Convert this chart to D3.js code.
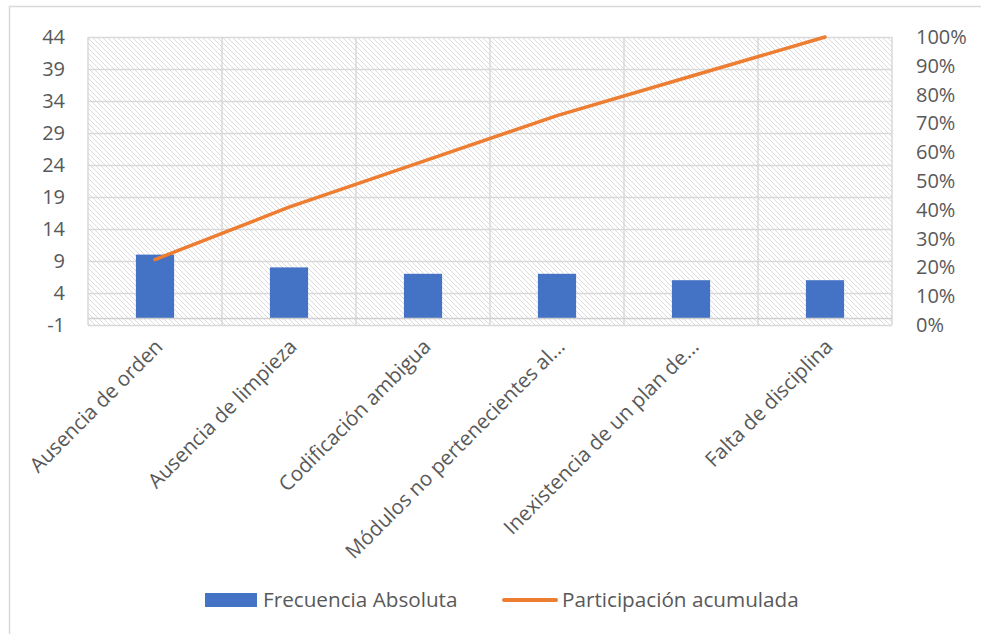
<!DOCTYPE html>
<html>
<head>
<meta charset="utf-8">
<script src="https://cdnjs.cloudflare.com/ajax/libs/d3/7.8.5/d3.min.js"></script>
<style>
  html, body { margin: 0; padding: 0; background: #fff; }
  svg { display: block; }
  text { font-family: "Open Sans", Lato, sans-serif; fill: #595959; }
</style>
</head>
<body>
<svg id="chart" width="981" height="634"></svg>
<script>
// Pareto data: causes and their absolute frequency
const categories = [
  "Ausencia de orden",
  "Ausencia de limpieza",
  "Codificación ambigua",
  "Módulos no pertenecientes al...",
  "Inexistencia de un plan de...",
  "Falta de disciplina"
];
const frequencies = [10, 8, 7, 7, 6, 6];
const leftTicks = [-1, 4, 9, 14, 19, 24, 29, 34, 39, 44];
const rightTicks = [0, 0.1, 0.2, 0.3, 0.4, 0.5, 0.6, 0.7, 0.8, 0.9, 1];
const seriesNames = ["Frecuencia Absoluta", "Participación acumulada"];

// cumulative share of the total
const total = d3.sum(frequencies);
const cumulative = d3.cumsum(frequencies).map(v => v / total);

const svg = d3.select("#chart");
const W = 981, H = 634;
const m = { left: 88, right: 892, top: 37, bottom: 325 };

// outer chart frame
svg.append("rect")
  .attr("x", 9.5).attr("y", 6.5)
  .attr("width", W + 20).attr("height", H + 20)
  .attr("fill", "#fff").attr("stroke", "#d9d9d9").attr("stroke-width", 1.5);

// diagonal hatch for the plot area
const defs = svg.append("defs");
const pat = defs.append("pattern")
  .attr("id", "hatch")
  .attr("patternUnits", "userSpaceOnUse")
  .attr("width", 5).attr("height", 5);
pat.append("rect").attr("width", 5).attr("height", 5).attr("fill", "#fff");
pat.append("path")
  .attr("d", "M-1,-1 L6,6 M-1,4 L1,6 M4,-1 L6,1")
  .attr("stroke", "#dcdcdc").attr("stroke-width", 1);

const x = d3.scaleBand().domain(categories).range([m.left, m.right]).paddingInner(0).paddingOuter(0);
const yL = d3.scaleLinear().domain([-1, 44]).range([m.bottom, m.top]);
const yR = d3.scaleLinear().domain([0, 1]).range([m.bottom, m.top]);

svg.append("rect")
  .attr("x", m.left).attr("y", m.top)
  .attr("width", m.right - m.left).attr("height", m.bottom - m.top)
  .attr("fill", "url(#hatch)");

// horizontal gridlines
svg.append("g")
  .attr("transform", `translate(${m.left},0)`)
  .call(d3.axisLeft(yL).tickValues(leftTicks).tickSize(-(m.right - m.left)).tickFormat(""))
  .call(g => g.select(".domain").remove())
  .call(g => g.selectAll("line").attr("stroke", "#d9d9d9").attr("stroke-width", 1.5));

// vertical gridlines at category boundaries
const bounds = categories.map(c => x(c)).concat([m.right]);
svg.append("g").selectAll("line").data(bounds).join("line")
  .attr("x1", d => d).attr("x2", d => d)
  .attr("y1", m.top).attr("y2", m.bottom)
  .attr("stroke", "#d9d9d9").attr("stroke-width", 1.5);

// bars
const barW = x.bandwidth() * 0.285;
svg.append("g").selectAll("rect").data(frequencies).join("rect")
  .attr("x", (d, i) => x(categories[i]) + x.bandwidth() / 2 - barW / 2)
  .attr("y", d => yL(d))
  .attr("width", barW)
  .attr("height", d => yL(0) - yL(d))
  .attr("fill", "#4472c4");

// category axis line at zero
svg.append("line")
  .attr("x1", m.left).attr("x2", m.right)
  .attr("y1", yL(0)).attr("y2", yL(0))
  .attr("stroke", "#d0d0d0").attr("stroke-width", 1.5);

// cumulative line
const line = d3.line()
  .x((d, i) => x(categories[i]) + x.bandwidth() / 2)
  .y(d => yR(d));
svg.append("path")
  .datum(cumulative)
  .attr("d", line)
  .attr("fill", "none")
  .attr("stroke", "#ed7d31")
  .attr("stroke-width", 3.5)
  .attr("stroke-linecap", "round");

// left axis labels
svg.append("g").selectAll("text").data(leftTicks).join("text")
  .attr("x", 65).attr("y", d => yL(d))
  .attr("dy", "0.35em")
  .attr("text-anchor", "end")
  .style("font-size", "20px")
  .text(d => d);

// right axis labels
svg.append("g").selectAll("text").data(rightTicks).join("text")
  .attr("x", 916).attr("y", d => yR(d))
  .attr("dy", "0.35em")
  .attr("text-anchor", "start")
  .style("font-size", "20px")
  .text(d => d3.format(".0%")(d));

// rotated category labels
svg.append("g").selectAll("text").data(categories).join("text")
  .attr("transform", d => `translate(${x(d) + x.bandwidth() / 2 + 9},${m.bottom + 23}) rotate(-45)`)
  .attr("text-anchor", "end")
  .style("font-size", "20.5px")
  .text(d => d);

// legend
const lg = svg.append("g");
lg.append("rect").attr("x", 205).attr("y", 593).attr("width", 52).attr("height", 14).attr("fill", "#4472c4");
lg.append("text").attr("x", 263).attr("y", 607).style("font-size", "20.7px").text(seriesNames[0]);
lg.append("line").attr("x1", 504).attr("x2", 556).attr("y1", 600).attr("y2", 600)
  .attr("stroke", "#ed7d31").attr("stroke-width", 4).attr("stroke-linecap", "round");
lg.append("text").attr("x", 562).attr("y", 607).style("font-size", "20.7px").text(seriesNames[1]);
</script>
</body>
</html>
